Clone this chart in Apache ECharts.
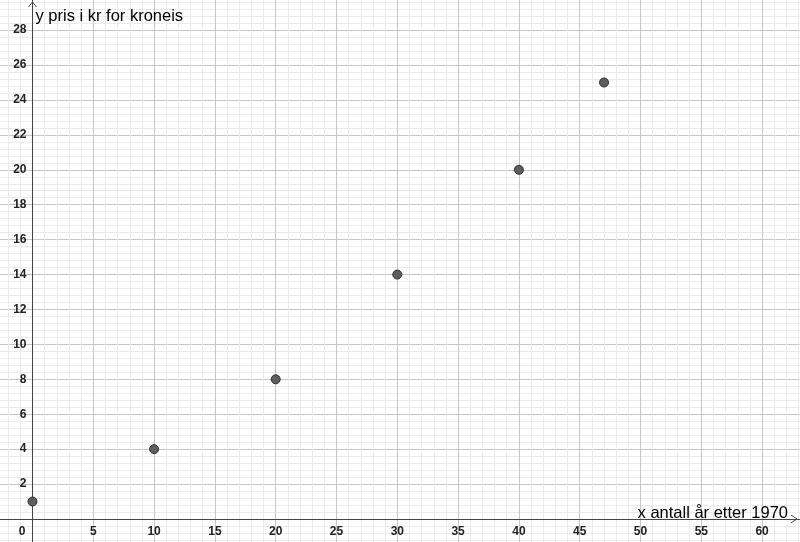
<!DOCTYPE html>
<html>
<head>
<meta charset="utf-8">
<script src="https://cdn.jsdelivr.net/npm/echarts@6/dist/echarts.min.js"></script>
<style>html,body{margin:0;padding:0;background:#fff}#c{width:800px;height:542px}</style>
</head>
<body>
<div id="c"></div>
<script>
// Data
const xValues = [0, 10, 20, 30, 40, 47];
const yValues = [1, 4, 8, 14, 20, 25];
const xAxisTitle = 'x antall år etter 1970';
const yAxisTitle = 'y pris i kr for kroneis';

const points = xValues.map((x, i) => [x, yValues[i]]);
const chart = echarts.init(document.getElementById('c'), null, {renderer: 'canvas'});

const labelFont = {color: '#222', fontSize: 12, fontWeight: 'bold', fontFamily: 'Liberation Sans, Arial, sans-serif'};
// pixel scale of the view (layout only)
const pxPerX = 12.16, pxPerY = 17.46;

chart.setOption({
  backgroundColor: '#ffffff',
  animation: false,
  grid: {left: -28.3, right: -22.9, top: -4.8, bottom: -11.9, containLabel: false, outerBoundsMode: 'none'},
  xAxis: {
    type: 'value', min: -5, max: 65, interval: 5,
    position: 'bottom', offset: -2 * pxPerY,
    axisLine: {onZero: false, lineStyle: {color: '#444', width: 1}},
    axisTick: {show: false},
    minorTick: {show: false, splitNumber: 5},
    splitLine: {show: true, lineStyle: {color: '#c6c6c6', width: 1}},
    minorSplitLine: {show: true, lineStyle: {color: '#ebebeb', width: 1}},
    axisLabel: Object.assign({
      margin: 7,
      hideOverlap: false,
      showMinLabel: true, showMaxLabel: true,
      formatter: v => (v < 0 || v > 60) ? '' : (v === 0 ? '{z|0}' : String(v)),
      rich: {z: Object.assign({padding: [0, 21, 0, 0]}, labelFont)}
    }, labelFont)
  },
  yAxis: {
    type: 'value', min: -2, max: 30, interval: 2,
    position: 'left', offset: -5 * pxPerX,
    axisLine: {onZero: false, lineStyle: {color: '#444', width: 1}},
    axisTick: {show: false},
    minorTick: {show: false, splitNumber: 5},
    splitLine: {show: true, lineStyle: {color: '#c6c6c6', width: 1}},
    minorSplitLine: {show: true, lineStyle: {color: '#ebebeb', width: 1}},
    axisLabel: Object.assign({
      margin: 6,
      hideOverlap: false,
      formatter: v => (v <= 0 || v > 28) ? '' : String(v)
    }, labelFont)
  },
  series: [{
    type: 'scatter',
    data: points,
    symbol: 'circle',
    symbolSize: 9,
    itemStyle: {color: '#5e5e5e', borderColor: '#2e2e2e', borderWidth: 1, opacity: 1},
    z: 5
  }]
});

const o = chart.convertToPixel({gridIndex: 0}, [0, 0]);
const W = 800;
chart.setOption({
  graphic: [
    {type: 'polyline', shape: {points: [[W - 9, o[1] - 4], [W - 3, o[1]], [W - 9, o[1] + 4]]},
     style: {stroke: '#444', fill: null, lineWidth: 1}, z: 10},
    {type: 'polyline', shape: {points: [[o[0] - 4, 7], [o[0], 2], [o[0] + 4, 7]]},
     style: {stroke: '#444', fill: null, lineWidth: 1}, z: 10},
    {type: 'text', left: o[0] + 3, top: 8,
     style: {text: yAxisTitle, fill: '#000', font: '16.5px "Liberation Sans", Arial, sans-serif'}, z: 10},
    {type: 'text', right: 12, top: o[1] - 14.5,
     style: {text: xAxisTitle, fill: '#000', font: '16.5px "Liberation Sans", Arial, sans-serif'}, z: 10}
  ]
});
</script>
</body>
</html>
